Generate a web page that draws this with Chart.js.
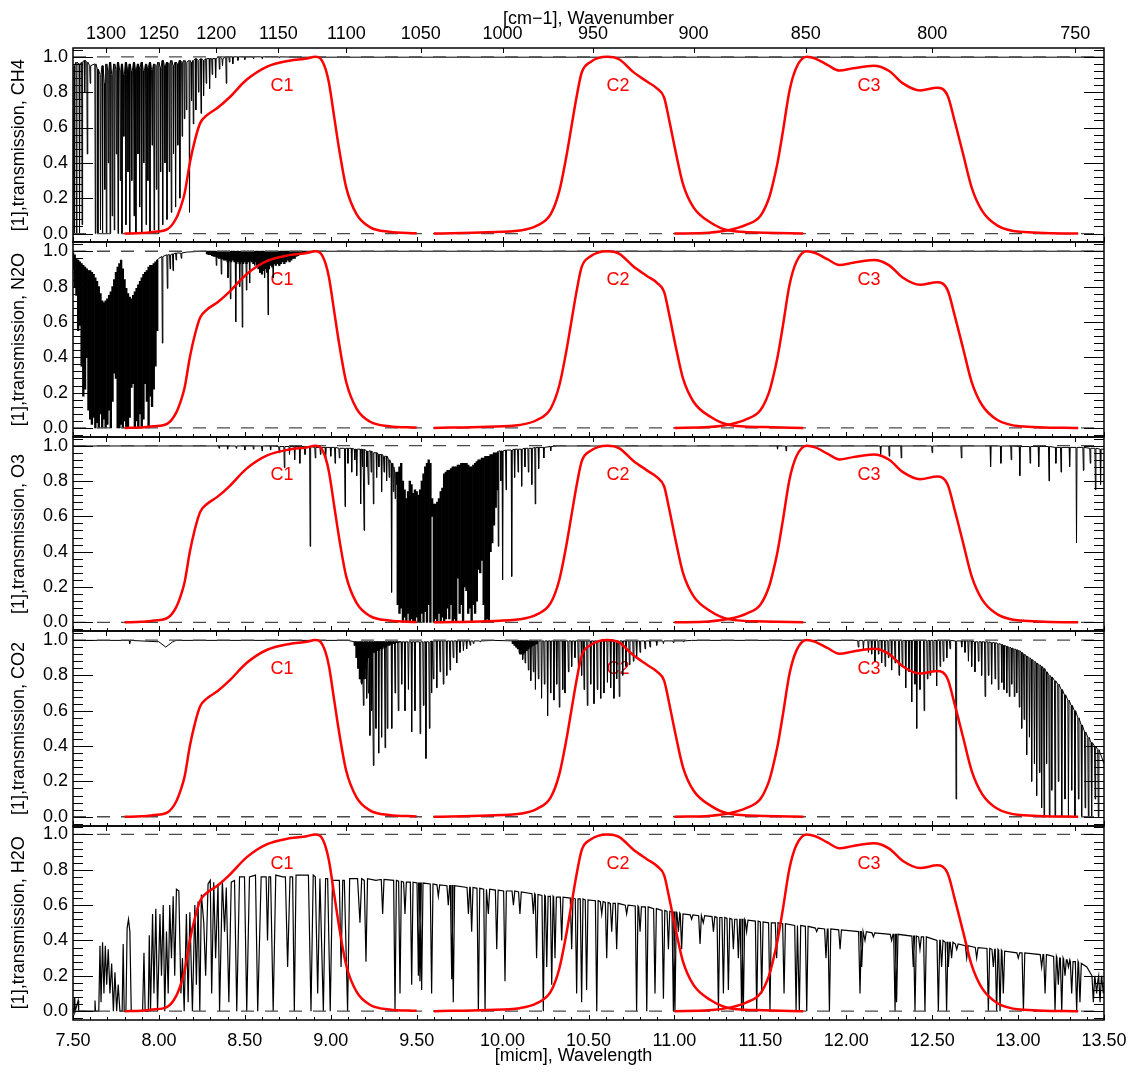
<!DOCTYPE html>
<html><head><meta charset="utf-8">
<script src="https://cdn.jsdelivr.net/npm/chart.js@4.4.1/dist/chart.umd.min.js"></script>
<style>html,body{margin:0;padding:0;background:#fff;}canvas{display:block;}</style>
</head><body>
<canvas id="c" width="1137" height="1073"></canvas>
<script>
// ---------------- axes / labels ----------------
const xRange = [7.5, 13.5];
const yRange = [-0.05, 1.05];
const gases = ['CH4', 'N2O', 'O3', 'CO2', 'H2O'];
const xTickValues = [7.5, 8, 8.5, 9, 9.5, 10, 10.5, 11, 11.5, 12, 12.5, 13, 13.5];
const wnTickValues = [1300, 1250, 1200, 1150, 1100, 1050, 1000, 950, 900, 850, 800, 750];
const yTickValues = [0, 0.2, 0.4, 0.6, 0.8, 1.0];
const yMinorTickValues = [-0.04, 0.04, 0.08, 0.12, 0.16, 0.24, 0.28, 0.32, 0.36, 0.44, 0.48, 0.52, 0.56, 0.64, 0.68, 0.72, 0.76, 0.84, 0.88, 0.92, 0.96, 1.04];
const refLevels = [0, 1];
const filterNames = ['C1', 'C2', 'C3'];
const filterLabelWl = [8.716, 10.671, 12.132];
const filterLabelTr = 0.835;

// ---------------- filter responses (red) ----------------
const c1Wl = [7.80, 7.90, 7.97, 8.05, 8.10, 8.13, 8.15, 8.18, 8.21, 8.24, 8.28, 8.34, 8.41, 8.51, 8.63, 8.76, 8.86, 8.91, 8.94, 8.97, 8.99, 9.02, 9.05, 9.09, 9.15, 9.23, 9.34, 9.50];
const c1Tr = [0.000, 0.003, 0.010, 0.025, 0.085, 0.16, 0.23, 0.40, 0.53, 0.625, 0.67, 0.71, 0.77, 0.87, 0.945, 0.978, 0.99, 1.00, 0.99, 0.93, 0.85, 0.66, 0.47, 0.26, 0.11, 0.035, 0.010, 0.002];
const c2Wl = [9.60, 9.91, 10.10, 10.20, 10.28, 10.33, 10.37, 10.40, 10.43, 10.46, 10.51, 10.61, 10.68, 10.76, 10.84, 10.90, 10.94, 10.97, 11.01, 11.05, 11.11, 11.21, 11.32, 11.52, 11.75];
const c2Tr = [0.000, 0.007, 0.017, 0.045, 0.11, 0.24, 0.43, 0.60, 0.77, 0.91, 0.97, 1.00, 0.985, 0.915, 0.86, 0.82, 0.77, 0.64, 0.45, 0.28, 0.15, 0.063, 0.017, 0.005, 0.000];
const c3Wl = [11.00, 11.20, 11.32, 11.42, 11.50, 11.55, 11.57, 11.60, 11.63, 11.67, 11.71, 11.77, 11.82, 11.89, 11.96, 12.04, 12.16, 12.25, 12.33, 12.43, 12.53, 12.59, 12.63, 12.68, 12.73, 12.79, 12.88, 13.01, 13.35];
const c3Tr = [0.000, 0.005, 0.02, 0.05, 0.10, 0.20, 0.27, 0.40, 0.57, 0.81, 0.94, 1.00, 0.99, 0.955, 0.922, 0.935, 0.95, 0.92, 0.85, 0.81, 0.825, 0.78, 0.64, 0.45, 0.26, 0.13, 0.045, 0.01, 0.000];

// ---------------- CH4 ----------------
const ch4Wl = [7.500,7.506,7.520,7.538,7.553,7.568,7.583,7.600,7.630,7.645, 7.660,7.672,7.685,7.694,7.705,7.716,7.728,7.740,7.752,7.762, 7.775,7.785,7.796,7.808,7.820,7.830,7.842,7.855,7.866,7.878, 7.888,7.900,7.912,7.925,7.936,7.948,7.960,7.972,7.985,7.997, 8.010,8.022,8.035,8.047,8.060,8.072,8.085,8.097,8.110,8.122, 8.135,8.148,8.160,8.178,8.190,8.200,8.215,8.230,8.245,8.260, 8.275,8.295,8.310,8.330,8.352,8.370,8.392,8.410,8.430,8.460, 8.500,8.550,8.600,8.700,8.800,13.500];
const ch4Top = [.95,.95,.97,.96,.97,.98,.97,.95,.96,.93, .90,.95,.85,.96,.92,.97,.90,.96,.93,.97, .92,.96,.90,.97,.93,.96,.92,.97,.93,.96, .94,.97,.92,.96,.94,.97,.93,.96,.95,.97, .94,.98,.95,.97,.96,.98,.95,.97,.96,.98, .97,.98,.97,.98,.97,.98,.99,.98,.99,.98, .99,.99,.99,.99,1,.99,1,1,1,1, 1,1,1,1,.998,.998];
const ch4Lo = [null,0,0,0,.05,.80,.45,.85,0,0, .02,0,.25,0,.40,0,.10,.02,.45,0, .30,0,.55,.05,.35,0,.30,.10,0,.45, .15,0,.40,.05,.30,0,.50,.02,.25,0, .35,.05,.40,.08,.35,.12,.45,.15,.50,.20, .55,.65,.70,.12,.75,.62,.70,.80,.68,.78, .85,.82,.90,.88,.93,.95,.85,.97,.96,.98, .985,.99,.99,.995,null,null];

// ---------------- N2O ----------------
const n2oWl = [7.990,8.000,8.020,8.049,8.065,8.082,8.100,8.130,8.160,8.250, 8.334,8.363,8.402,8.416,8.447,8.470,8.485,8.509,8.528,8.557, 8.586,8.615,8.635,8.664,8.700,8.760,8.850,13.500];
const n2oTop = [.95,.96,.97,.98,.98,.985,.99,.99,.995,1, 1,1,1,1,1,1,1,1,1,1, 1,1,1,1,1,1,1,1];
const n2oLo = [null,null,.48,.79,.90,.89,.95,.96,null,null, .92,.87,.85,.73,.60,.80,.57,.78,.82,.92, .88,.85,.64,.85,.92,.95,null,null];
const n2oBandWl = [7.50,7.51,7.52,7.53,7.54,7.55,7.56,7.57,7.58,7.59, 7.60,7.61,7.62,7.63,7.64,7.65,7.66,7.67,7.68,7.69, 7.70,7.71,7.72,7.73,7.74,7.75,7.76,7.77,7.78,7.79, 7.80,7.81,7.82,7.83,7.84,7.85,7.86,7.87,7.88,7.89, 7.90,7.91,7.92,7.93,7.94,7.95,7.96,7.97,7.98,7.99,
  8.28,8.29,8.30,8.31,8.32,8.33,8.34,8.35,8.36,8.37, 8.38,8.39,8.40,8.41,8.42,8.43,8.44,8.45,8.46,8.47, 8.48,8.49,8.50,8.51,8.52,8.53,8.54,8.55,8.56,8.57, 8.58,8.59,8.60,8.61,8.62,8.63,8.64,8.65,8.66,8.67, 8.68,8.69,8.70,8.71,8.72,8.73,8.74,8.75,8.76,8.77, 8.78,8.79,8.80,8.81,8.82,8.83,8.84,8.85];
const n2oBandHi = [.99,.98,.96,.95,.94,.93,.92,.91,.90,.89, .89,.88,.87,.85,.83,.80,.76,.72,.71,.72, .73,.75,.77,.80,.84,.88,.91,.93,.95,.90, .84,.79,.76,.74,.73,.75,.77,.79,.81,.83, .85,.87,.88,.89,.91,.92,.92,.93,.94,.95,
  1,1,1,1,1,1,1,1,1,1, 1,1,1,1,1,1,1,1,1,1, 1,1,1,1,1,1,1,1,1,1, 1,1,1,1,1,1,1,1,1,1, 1,1,1,1,1,1,1,1,1,1, 1,1,1,1,1,1,1,1];
const n2oBandLo = [.90,.80,.75,.55,.58,.35,.18,.22,.40,.10, .05,.02,.06,0,.03,0,.08,0,.05,0, .02,.10,0,.15,.31,.28,0,0,.02,0, .04,0,0,.06,.23,.25,0,.04,0,.08, 0,.05,.25,.15,0,.18,.12,.22,.35,.55,
  .985,.98,.98,.975,.97,.97,.965,.96,.96,.955, .95,.95,.94,.945,.94,.95,.94,.93,.94,.93, .94,.93,.94,.93,.94,.95,.94,.93,.94,.92, .90,.88,.87,.89,.90,.88,.90,.92,.91,.93, .92,.93,.92,.93,.94,.93,.94,.95,.94,.95, .96,.96,.97,.975,.98,.985,.99,.995];

// ---------------- O3 ----------------
const o3Wl = [7.50,8.30,8.35,8.40,8.45,8.50,8.55,8.60,8.65,8.70, 8.73,8.76,8.79,8.82,8.85,8.88,8.91,8.94,8.97,9.00, 9.025,9.05,9.083,9.10,9.122,9.14,9.151,9.174,9.185,9.194, 9.21,9.219,9.235,9.248,9.267,9.28,9.296,9.31,9.325,9.34, 9.354,9.364,9.375,9.384, 9.39, 9.975,9.99,10.00,10.02,10.053, 10.07,10.09,10.111,10.13,10.15,10.17,10.19,10.21,10.24,10.28, 10.32, 11.60,11.65,12.20,12.25,12.32,12.50,12.67,12.84,12.90, 12.96,13.01,13.07,13.12,13.18,13.22,13.25,13.30,13.34,13.38, 13.42,13.45,13.48,13.50];
const o3Top = [.998,.998,.998,.998,.998,.998,.998,.998,.998,.995, .995,.995,.995,.995,.995,.995,.99,.99,.99,.99, .99,.985,.985,.985,.985,.98,.98,.98,.98,.98, .97,.97,.97,.96,.96,.95,.95,.94,.94,.92, .90,.88,.85,.85, null, .97,.97,.97,.975,.975, .98,.98,.98,.985,.985,.985,.99,.99,.99,.995, .998, .998,.998,.998,.998,.998,.998,.998,.998,.998, .998,.995,.995,.995,.995,.99,.99,.99,.99,.99, .985,.985,.98,.98];
const o3Lo = [null,null,.985,.98,.985,.975,.98,.97,.975,.96, .875,.95,.92,.90,.95,.43,.93,.95,.92,.94, .90,.93,.655,.90,.85,.92,.83,.67,.88,.52, .88,.78,.85,.67,.82,.88,.74,.85,.80,.82, .17,.74,.70,.78, null, .43,.80,.24,.75,.26, .82,.85,.77,.88,.85,.78,.67,.87,.93,.97, null, .98,.97,.95,.94,.93,.96,.93,.88,.90, .92,.83,.90,.88,.80,.90,.85,.88,.45,.86, .90,.75,.78,null];
const o3BandWl = [9.39,9.40,9.41,9.42,9.43,9.44,9.45,9.46,9.47,9.48, 9.49,9.50,9.51,9.52,9.53,9.54,9.55,9.56,9.57,9.58, 9.59,9.60,9.61,9.62,9.63,9.64,9.65,9.66,9.67,9.68, 9.69,9.70,9.71,9.72,9.73,9.74,9.75,9.76,9.77,9.78, 9.79,9.80,9.81,9.82,9.83,9.84,9.85,9.86,9.87,9.88, 9.89,9.90,9.91,9.92,9.93,9.94,9.95,9.96,9.97];
const o3BandHi = [.85,.88,.90,.80,.75,.70,.74,.80,.78,.73, .75,.74,.72,.75,.80,.84,.88,.90,.92,.90, .70,.67,.67,.68,.70,.74,.76,.84,.85,.86, .86,.87,.88,.88,.88,.89,.89,.90,.90,.90, .90,.89,.88,.88,.89,.90,.91,.92,.92,.93, .93,.94,.94,.94,.95,.95,.96,.96,.96];
const o3BandLo = [.10,.05,.08,0,.03,0,.05,0,.02,0, 0,.03,0,0,.05,0,.06,0,.10,0, .60,0,.02,0,.05,0,.03,0,.02,.08, .02,.10,0,.02,0,.25,.05,.10,0,.20, .18,.05,.08,0,.10,.05,.12,.30,.28,.35, .10,0,.02,0,.40,.45,.55,.65,.75];

// ---------------- CO2 ----------------
const co2Wl = [7.50,7.83,8.00,8.04,8.08,8.10,9.10,
  9.141,9.151,9.161,9.170,9.180,9.190,9.199,9.209,9.219,9.228, 9.238,9.248,9.263,9.279,9.296,9.316,9.329,9.355,9.374,9.393, 9.413,9.432,9.452,9.471,9.490,9.520,9.539,9.554,9.574,9.587, 9.597,9.617,9.636,9.655,9.675,9.694,9.713,9.733,9.752,9.772, 9.791,9.811,9.830,9.869,
  9.95,
  10.063,10.082,10.101,10.117,10.131,10.150,10.164,10.179,10.191,10.208, 10.227,10.243,10.262,10.280,10.299,10.315,10.330,10.350,10.363,10.383, 10.402,10.421,10.441,10.460,10.474,10.493,10.513,10.532,10.551,10.571, 10.590,10.610,10.629,10.648,10.664,10.679,10.699,10.718,10.738,10.761, 10.780,10.800,10.829,10.858,10.897,10.936,10.994,11.052,
  11.10,11.80,12.00,
  12.070,12.100,12.129,12.148,12.167,12.187,12.206,12.226,12.245,12.264, 12.284,12.307,12.326,12.346,12.365,12.381,12.400,12.410,12.429,12.453, 12.472,12.488,12.507,12.526,12.546,12.565,12.585,12.604,12.639,12.672, 12.691,12.711,12.730,12.749,12.769,12.788,12.808,12.827,12.846,12.866, 12.885,12.905,12.918,12.934,12.949,12.963,12.978,12.992,13.007,13.021, 13.035,13.050,13.066,13.079,13.095,13.108,13.124,13.137,13.151,13.166, 13.182,13.196,13.215,13.234,13.254,13.273,13.293,13.312,13.331,13.351, 13.370,13.390,13.409,13.428,13.448,13.467,13.500];
const co2Top = [.998,.998,.99,.96,.99,.998,.998,
  .99,.99,.99,.99,.99,.99,.99,.99,.99,.99, .99,.99,.99,.99,.99,.99,.99,.99,.99,.99, .99,.99,.99,.99,.99,.99,.99,.99,.99,.995, .995,.995,.995,.995,.995,.995,.995,.995,.995,.995, .995,.995,.995,.995,
  .998,
  .995,.995,.995,.995,.995,.995,.995,.995,.995,.995, .995,.995,.995,.995,.995,.995,.995,.995,.995,.995, .995,.995,.995,.995,.995,.995,.995,.995,.995,.995, .995,.995,.995,.995,.995,.995,.995,.995,.995,.995, .995,.995,.995,.995,.995,.995,.995,.995,
  .998,.998,.998,
  .998,.998,.998,.998,.998,.998,.998,.998,.998,.998, .998,.998,.998,.998,.998,.998,.998,.998,.998,.998, .998,.998,.998,.998,.998,.998,.998,.998,.995,.995, .995,.995,.995,.99,.99,.99,.99,.99,.985,.985, .98,.975,.97,.965,.96,.955,.95,.945,.94,.93, .92,.91,.90,.89,.88,.87,.86,.85,.84,.82, .80,.79,.77,.75,.72,.69,.66,.63,.60,.56, .52,.48,.45,.42,.40,.38,.30];
const co2Lo = [null,.98,null,null,null,null,null,
  .97,.92,.88,.85,.75,.63,.78,.67,.70,.46, .60,.29,.50,.36,.45,.39,.50,.50,.70,.60, .75,.60,.72,.48,.60,.47,.63,.33,.50,.70, .78,.73,.82,.75,.80,.83,.90,.87,.93,.94, .95,.97,.98,.99,
  null,
  .98,.96,.92,.89,.87,.83,.77,.82,.72,.78, .67,.75,.57,.70,.66,.75,.62,.72,.70,.82, .85,.90,.85,.80,.72,.63,.75,.64,.72,.67, .70,.76,.73,.67,.78,.68,.80,.85,.86,.88, .90,.93,.95,.96,.97,.98,.985,.99,
  null,.99,null,
  .96,.95,.93,.92,.88,.92,.87,.85,.90,.83, .87,.80,.85,.73,.82,.65,.75,.50,.72,.60, .78,.80,.82,.74,.85,.88,.90,.95,.10,.96, .93,.88,.85,.82,.88,.80,.68,.80,.75,.78, .72,.76,.72,.70,.68,.75,.68,.70,.62,.50, .55,.35,.45,.20,.30,.12,.25,.05,0,.30, 0,.15,0,.20,0,.10,0,.15,0,.10, 0,.05,0,0,.10,0,null];
const co2BandWl = [9.14,9.15,9.16,9.17,9.18,9.19,9.20,9.21,9.22,9.23, 9.24,9.25,9.26,9.27,9.28,9.29,9.30,9.31,9.32,9.33, 9.34,9.35,9.36,9.37,9.38,9.39,9.40,
  10.06,10.07,10.08,10.09,10.10,10.11,10.12,10.13,10.14,10.15, 10.16,10.17,10.18,10.19,10.20];
const co2BandHi = [.99,.99,.99,.99,.99,.99,.99,.99,.99,.99, .99,.99,.99,.99,.99,.99,.99,.99,.99,.99, .99,.99,.99,.99,.99,.99,.99,
  .995,.995,.995,.995,.995,.995,.995,.995,.995,.995, .995,.995,.995,.995,.995];
const co2BandLo = [.97,.90,.84,.78,.76,.78,.84,.88,.90,.91, .92,.93,.93,.94,.94,.95,.95,.96,.96,.97, .97,.975,.98,.98,.985,.985,.99,
  .98,.97,.96,.95,.93,.92,.92,.93,.94,.95, .96,.965,.97,.975,.98];

// ---------------- H2O ----------------
const h2oEdgeWl = [7.500,7.505,7.510,7.513,7.530,7.533,7.626,7.628,7.631,7.650, 7.657,7.663,7.672,7.680,7.688,7.696,7.705,7.715,7.725,7.735, 7.744,7.754,7.763,7.773,7.786,7.792,7.798,7.808,7.815,7.823, 7.831,7.839,7.905,7.913,7.920,7.938,7.944,7.951,7.963,7.971, 7.982,7.992,8.006,8.015,8.025,8.034,8.044,8.054,8.063,8.073, 8.083,8.092,8.102,8.116,8.128,8.137,8.147,8.160,8.170,8.180, 8.195,8.209,8.218,8.228,8.238,8.247,8.261,8.272,8.286,8.299, 8.307,8.319,8.330,8.344,8.353,8.369,8.382,8.392,8.407,8.421, 8.440,8.453,8.469,8.498,8.511,8.527,8.562,8.575,8.595,8.624, 8.632,8.640,8.650,8.665,8.680,8.720,8.736,8.749,8.763,8.778, 8.788,8.798,8.856,8.870,8.885,8.898,8.910,8.924,8.937,8.957, 8.970,8.982,8.997,9.010,9.050,9.060,9.070,9.079,9.098,9.110, 9.156,9.170,9.180,9.195,9.205,9.214,9.263,9.290];
const h2oEdgeTr = [.02,0,.08,0,.06,0,0,.06,0,0, .37,.05,.39,.10,.37,.15,.35,.10,.27,0, .22,0,.15,0,0,.38,0,0,.47,.52, .45,0,0,.33,0,0,.43,0,.55,.10, .58,0,.55,.20,.60,0,.45,.10,.60,.30, .65,.20,.69,.68,.10,.30,0,.55,.05,.56, 0,.60,.15,.62,0,.66,.50,.20,.72,.74, .10,.73,.30,.72,0,.74,.45,.70,.05,.73, .74,0,.76,.76,0,.76,.77,0,.76,.76, .40,.76,.76,0,.77,.76,.76,.25,.76,.76, 0,.77,.77,.77,0,.77,.76,.10,.75,0, .75,.75,0,.74,.74,.25,.74,.74,0,.75, .75,.50,.75,.74,.28,.75,.74,.745];
const h2oWl = [9.302,9.374,9.403,9.432,9.471,9.510,9.519,9.529,9.587,9.626, 9.684,9.704,9.713,9.801,9.820,9.859,9.898,9.917,9.966,10.014, 10.063,10.101,10.179,10.198,10.237,10.257,10.286,10.305,10.344,10.402, 10.431,10.460,10.489,10.548,10.577,10.606,10.635,10.664,10.722,10.780, 10.800,10.839,10.887,10.936,10.965,10.994,11.003,11.023,11.042,11.100, 11.149,11.168,11.227,11.256,11.285,11.314,11.343,11.372,11.391,11.401, 11.420,11.479,11.508,11.556,11.595,11.638,11.708,11.727,11.770,11.828, 11.882,11.902,11.964,12.080,12.090,12.109,12.158,12.264,12.284,12.293, 12.390,12.400,12.429,12.458,12.536,12.555,12.584,12.594,12.613,12.643, 12.701,12.759,12.827,12.856,12.875,12.895,12.914,13.001,13.031,13.137, 13.157,13.215,13.234,13.254,13.273,13.293,13.312,13.341,13.360,13.400, 13.438,13.457,13.477,13.496,13.500];
const h2oTop = [.745,.74,.735,.73,.73,.725,.725,.725,.72,.715, .71,.71,.71,.70,.70,.695,.69,.69,.685,.68, .68,.675,.665,.66,.655,.65,.65,.645,.645,.64, .635,.635,.63,.625,.62,.615,.61,.61,.60,.595, .59,.59,.58,.57,.565,.56,.56,.555,.55,.545, .54,.54,.535,.53,.53,.525,.52,.52,.52,.52, .515,.51,.505,.50,.50,.495,.485,.485,.48,.47, .465,.465,.46,.45,.45,.45,.443,.435,.435,.435, .425,.425,.42,.42,.40,.40,.39,.39,.39,.38, .37,.36,.355,.35,.35,.345,.34,.33,.33,.32, .32,.31,.30,.30,.29,.29,.28,.28,.27,.25, .20,.18,.20,.18,.18];
const h2oLo = [.55,0,.1,.55,.15,.2,.17,.12,.1,.65, .6,.18,.05,.55,.45,0,0,.55,.35,.17, .6,.55,.55,.3,0,.25,.15,.3,.4,.35, .1,.05,.12,0,.55,.3,.45,.35,.55,0, .45,0,.1,.07,.35,0,0,.45,.35,.52, .38,.5,.45,0,.1,.12,.35,.3,0,0, .45,0,.1,0,.3,.1,0,0,0,.45, .3,0,.35,.1,.25,.4,.42,.4,0,.05, .25,0,.35,0,0,.25,0,.25,.3,.35, .3,.3,0,.25,0,0,.1,.3,0,.25, .1,0,.15,0,.2,.25,.1,0,.05,null, .05,.1,.05,.1,null];

// ---------------- build datasets ----------------
const FONT = '"Liberation Sans", Arial, Helvetica, sans-serif';
Chart.defaults.font.family = FONT;
Chart.defaults.font.size = 18;
Chart.defaults.color = '#000';

function spectrumPoints(wl, top, lo, hw) {
  const pts = [];
  for (let i = 0; i < wl.length; i++) {
    if (top[i] === null) { pts.push({x: wl[i], y: null}); continue; }
    if (lo[i] === null || lo[i] === undefined || lo[i] >= top[i]) {
      pts.push({x: wl[i], y: top[i]});
    } else {
      pts.push({x: wl[i] - hw, y: top[i]}, {x: wl[i], y: lo[i]}, {x: wl[i] + hw, y: top[i]});
    }
  }
  return pts;
}
function vertexPoints(wl, tr) { return wl.map((x, i) => ({x, y: tr[i]})); }
function bandPoints(wl, hi, lo) { return wl.map((x, i) => ({x, y: [lo[i], hi[i]]})); }

const panels = [
  {spec: spectrumPoints(ch4Wl, ch4Top, ch4Lo, 0.003), band: null, lw: 1},
  {spec: spectrumPoints(n2oWl, n2oTop, n2oLo, 0.003), band: bandPoints(n2oBandWl, n2oBandHi, n2oBandLo), lw: 1},
  {spec: spectrumPoints(o3Wl, o3Top, o3Lo, 0.003), band: bandPoints(o3BandWl, o3BandHi, o3BandLo), lw: 1},
  {spec: spectrumPoints(co2Wl, co2Top, co2Lo, 0.0035), band: bandPoints(co2BandWl, co2BandHi, co2BandLo), lw: 1},
  {spec: vertexPoints(h2oEdgeWl, h2oEdgeTr).concat(spectrumPoints(h2oWl, h2oTop, h2oLo, 0.008)), band: null, lw: 1.2}
];
const filters = [[c1Wl, c1Tr], [c2Wl, c2Tr], [c3Wl, c3Tr]];

const datasets = [];
panels.forEach((p, k) => {
  const yid = 'y' + k;
  datasets.push({type: 'line', label: gases[k], data: p.spec, xAxisID: 'x', yAxisID: yid,
    borderColor: '#000', borderWidth: p.lw, pointRadius: 0, tension: 0, fill: false, spanGaps: false, order: 4});
  if (p.band) {
    datasets.push({type: 'bar', label: gases[k] + ' dense', data: p.band, xAxisID: 'x', yAxisID: yid,
      backgroundColor: '#000', borderWidth: 0, barPercentage: 1, categoryPercentage: 1, grouped: false, order: 5});
  }
  refLevels.forEach(lv => {
    datasets.push({type: 'line', label: 'ref', data: [{x: xRange[0], y: lv}, {x: xRange[1], y: lv}], xAxisID: 'x', yAxisID: yid,
      borderColor: '#4a4a4a', borderWidth: 1.3, borderDash: [13, 11], pointRadius: 0, fill: false, order: 2});
  });
  filters.forEach((f, j) => {
    datasets.push({type: 'line', label: filterNames[j], data: vertexPoints(f[0], f[1]), xAxisID: 'x', yAxisID: yid,
      borderColor: '#ff0000', borderWidth: 2.5, pointRadius: 0, cubicInterpolationMode: 'monotone', fill: false, order: 1});
  });
});

// ---------------- scales ----------------
const scales = {
  x: {type: 'linear', axis: 'x', position: 'bottom', min: xRange[0], max: xRange[1], offset: false,
    afterBuildTicks: s => { s.ticks = xTickValues.map(v => ({value: v})); },
    afterFit: s => { s.height = 53; },
    ticks: {callback: v => Number(v).toFixed(2), padding: 10, maxRotation: 0, autoSkip: false, color: '#000', font: {size: 18}},
    grid: {display: false, drawTicks: false, offset: false}, border: {display: false},
    title: {display: true, text: '[micm], Wavelength      ', color: '#000', font: {size: 18}, padding: {top: 0, bottom: 6}}},
  xTop: {type: 'linear', axis: 'x', position: 'top', min: xRange[0], max: xRange[1], offset: false,
    afterBuildTicks: s => { s.ticks = wnTickValues.map(w => ({value: 10000 / w})); },
    afterFit: s => { s.height = 48; },
    ticks: {callback: (v, i) => String(wnTickValues[i]), padding: 3, maxRotation: 0, autoSkip: false, color: '#000', font: {size: 18}},
    grid: {display: false, drawTicks: false, offset: false}, border: {display: false},
    title: {display: true, text: '[cm\u22121], Wavenumber', color: '#000', font: {size: 18}, padding: {top: 8, bottom: 0}}}
};
gases.forEach((g, k) => {
  scales['y' + k] = {type: 'linear', axis: 'y', position: 'left', stack: 'panels', stackWeight: 1, weight: gases.length - k,
    min: yRange[0], max: yRange[1],
    afterBuildTicks: s => { s.ticks = yTickValues.map(v => ({value: v})); },
    afterFit: s => { s.width = 73; },
    ticks: {callback: v => Number(v).toFixed(1), padding: 5, autoSkip: false, color: '#000', font: {size: 18}},
    grid: {display: false, drawTicks: false}, border: {display: false},
    title: {display: true, text: '[1],transmission, ' + g, color: '#000', font: {size: 18}, padding: {top: 8, bottom: 0}}};
});

// ---------------- frame, ticks, filter labels ----------------
const idlAxes = {
  id: 'idlAxes',
  beforeDatasetsDraw(chart) {
    const ctx = chart.ctx, xs = chart.scales.x;
    ctx.save();
    ctx.fillStyle = '#ff0000';
    ctx.font = '18px ' + FONT;
    ctx.textAlign = 'center';
    ctx.textBaseline = 'middle';
    gases.forEach((g, k) => {
      const ys = chart.scales['y' + k];
      filterNames.forEach((n, j) => ctx.fillText(n, xs.getPixelForValue(filterLabelWl[j]), ys.getPixelForValue(filterLabelTr)));
    });
    ctx.restore();
  },
  afterDraw(chart) {
    const ctx = chart.ctx, xs = chart.scales.x;
    const L = Math.round(chart.chartArea.left), R = Math.round(chart.chartArea.right);
    ctx.save();
    ctx.strokeStyle = '#000';
    const seg = (x1, y1, x2, y2) => { ctx.beginPath(); ctx.moveTo(x1, y1); ctx.lineTo(x2, y2); ctx.stroke(); };
    gases.forEach((g, k) => {
      const ys = chart.scales['y' + k];
      const T = Math.round(ys.top), B = Math.round(ys.bottom);
      ctx.lineWidth = 1;
      yTickValues.forEach(v => { const y = Math.round(ys.getPixelForValue(v)) + 0.5; seg(L, y, L + 20, y); seg(R, y, R - 20, y); });
      yMinorTickValues.forEach(v => { const y = Math.round(ys.getPixelForValue(v)) + 0.5; seg(L, y, L + 10, y); seg(R, y, R - 10, y); });
      for (let i = 75; i <= 135; i++) {
        const x = Math.round(xs.getPixelForValue(i / 10)) + 0.5;
        seg(x, B, x, B - (i % 5 === 0 ? 5 : 3));
      }
      wnTickValues.forEach(w => { const x = Math.round(xs.getPixelForValue(10000 / w)) + 0.5; seg(x, T, x, T + 5); });
      ctx.lineWidth = 1.5;
      ctx.strokeRect(L, T, R - L, B - T);
    });
    ctx.restore();
  }
};

new Chart(document.getElementById('c'), {
  type: 'line',
  data: {datasets},
  options: {
    responsive: false, animation: false, devicePixelRatio: 1, events: [],
    layout: {padding: {left: 0, right: 33, top: 0, bottom: 0}},
    plugins: {legend: {display: false}, tooltip: {enabled: false}},
    scales
  },
  plugins: [idlAxes]
});
</script>
</body></html>
